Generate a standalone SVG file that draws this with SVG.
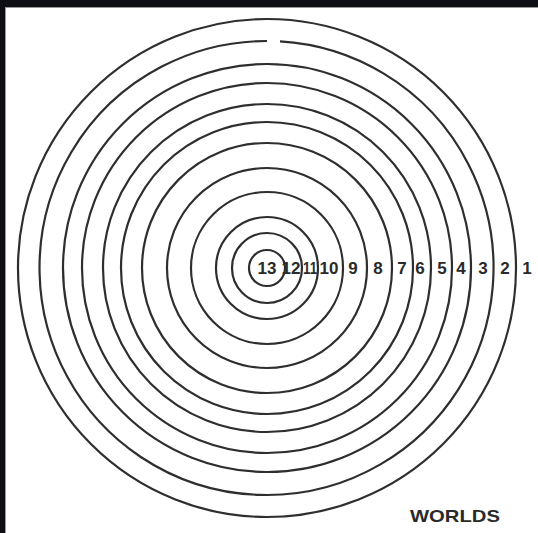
<svg xmlns="http://www.w3.org/2000/svg" width="538" height="533" viewBox="0 0 538 533">
  <style>
    .ring { fill: none; stroke: #2e2e2e; stroke-width: 2.2; }
    .num { font-family: "Liberation Sans", Arial, sans-serif; font-weight: bold; font-size: 17px; fill: #2a2a2a; text-anchor: middle; }
    .title { font-family: "Liberation Sans", Arial, sans-serif; font-weight: bold; font-size: 17px; fill: #2a2a2a; }
  </style>
  <rect x="0" y="0" width="538" height="533" fill="#ffffff"/>
  <g id="frame">
    <rect x="0" y="0" width="538" height="7" fill="#0d0f14"/>
    <rect x="0" y="0" width="5" height="533" fill="#0d0f14"/>
    <line x1="5.5" y1="7" x2="5.5" y2="533" stroke="#9a9a9a" stroke-width="1"/>
    <line x1="5" y1="7.5" x2="538" y2="7.5" stroke="#9a9a9a" stroke-width="1"/>
  </g>
  <g id="rings">
    <circle class="ring" cx="267" cy="268" r="18"/>
    <circle class="ring" cx="267" cy="268" r="35"/>
    <circle class="ring" cx="267" cy="268" r="51"/>
    <circle class="ring" cx="267" cy="268" r="76"/>
    <circle class="ring" cx="267" cy="268" r="100"/>
    <circle class="ring" cx="267" cy="268" r="125"/>
    <circle class="ring" cx="267" cy="268" r="146"/>
    <circle class="ring" cx="267" cy="268" r="164"/>
    <circle class="ring" cx="267" cy="268" r="185"/>
    <circle class="ring" cx="267" cy="268" r="204"/>
    <path class="ring" d="M 280 41.4 A 227 227 0 1 1 267 41"/>
    <circle class="ring" cx="267" cy="268" r="249"/>
  </g>
  <g id="labels">
    <text class="num" x="267" y="274">13</text>
    <text class="num" x="291" y="274">12</text>
    <text class="num" x="310" y="274" textLength="14" lengthAdjust="spacingAndGlyphs">11</text>
    <text class="num" x="329" y="274">10</text>
    <text class="num" x="353" y="274">9</text>
    <text class="num" x="378" y="274">8</text>
    <text class="num" x="402" y="274">7</text>
    <text class="num" x="420" y="274">6</text>
    <text class="num" x="442" y="274">5</text>
    <text class="num" x="461" y="274">4</text>
    <text class="num" x="483" y="274">3</text>
    <text class="num" x="505" y="274">2</text>
    <text class="num" x="527" y="274">1</text>
  </g>
  <g id="caption">
    <text class="title" x="410" y="522" textLength="90" lengthAdjust="spacingAndGlyphs">WORLDS</text>
  </g>
</svg>
